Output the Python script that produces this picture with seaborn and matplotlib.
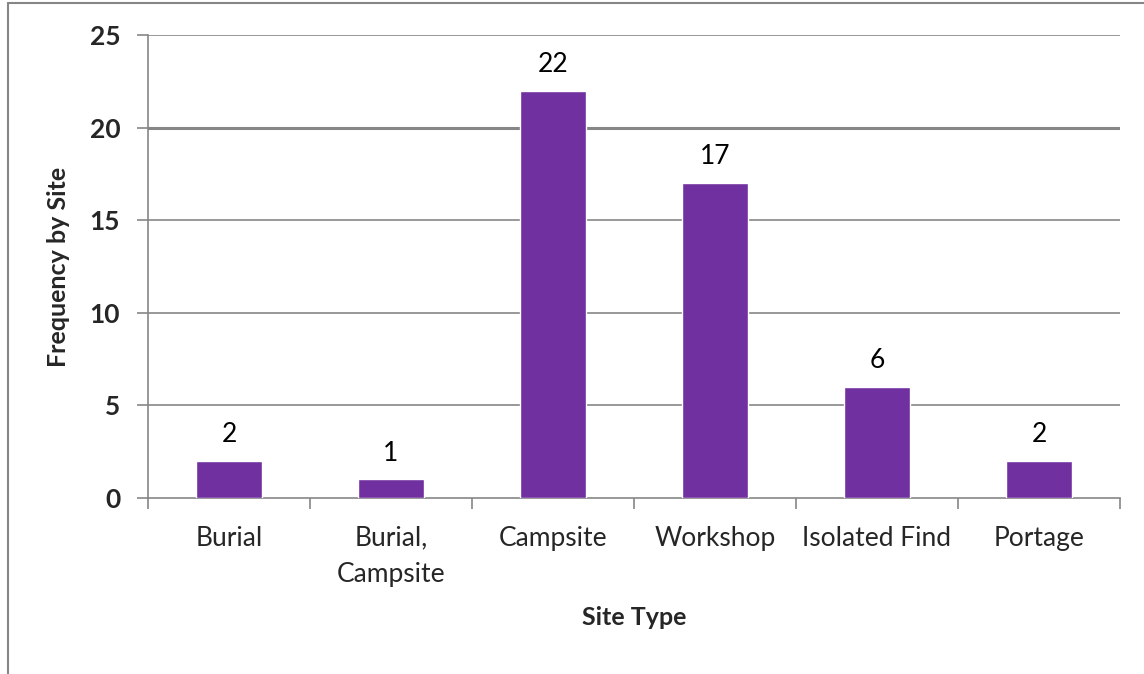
import matplotlib.pyplot as plt
import pandas as pd
import seaborn as sns

# data
site_types = ['Burial', 'Burial,\nCampsite', 'Campsite', 'Workshop', 'Isolated Find', 'Portage']
frequency = [2, 1, 22, 17, 6, 2]
y_ticks = [0, 5, 10, 15, 20, 25]

sns.set_theme(style='white')
plt.rcParams['font.family'] = ['Lato', 'DejaVu Sans']

df = pd.DataFrame({'site': site_types, 'freq': frequency})

fig = plt.figure(figsize=(11.44, 6.74), dpi=100)
ax = fig.add_axes([148 / 1144, 1 - 498 / 674, (1120 - 148) / 1144, (498 - 35) / 674])

sns.barplot(data=df, x='site', y='freq', color='#7030A0', width=0.41,
            saturation=1, ax=ax, zorder=3)

ax.set_ylim(0, 25)
ax.set_xlim(-0.5, len(site_types) - 0.5)
ax.set_yticks(y_ticks)
ax.set_yticklabels([str(t) for t in y_ticks], fontsize=19, fontweight='bold')
ax.tick_params(axis='y', length=8, width=1.2, color='#868686', pad=12, left=True)
ax.set_xticks(range(len(site_types)))
ax.set_xticklabels(site_types, fontsize=19, linespacing=1.55)
ax.tick_params(axis='x', length=0, pad=20)

# category separator ticks below the x axis
ax.set_xticks([i - 0.5 for i in range(len(site_types) + 1)], minor=True)
ax.tick_params(axis='x', which='minor', length=8, width=1.2, color='#868686', bottom=True)

for y in y_ticks[1:]:
    lw = 2.2 if y == 20 else 1.2
    ax.axhline(y, color='#868686', lw=lw, zorder=1)

for side in ['top', 'right']:
    ax.spines[side].set_visible(False)
for side in ['left', 'bottom']:
    ax.spines[side].set_color('#868686')
    ax.spines[side].set_linewidth(1.2)

for bar, val in zip(ax.patches, frequency):
    ax.annotate(str(val), (bar.get_x() + bar.get_width() / 2, bar.get_height()),
                xytext=(0, 10), textcoords='offset points', ha='center', va='bottom',
                fontsize=19, color='black')

ax.set_xlabel('Site Type', fontsize=18, fontweight='bold', labelpad=14)
ax.set_ylabel('Frequency by Site', fontsize=18, fontweight='bold', labelpad=14)

# outer chart border (left and top edges)
fig.add_artist(plt.Line2D([8 / 1144, 8 / 1144], [0, 1 - 3 / 674], color='#868686', lw=1.5))
fig.add_artist(plt.Line2D([8 / 1144, 1], [1 - 3 / 674, 1 - 3 / 674], color='#868686', lw=1.5))

fig.savefig('out.png', dpi=100)
